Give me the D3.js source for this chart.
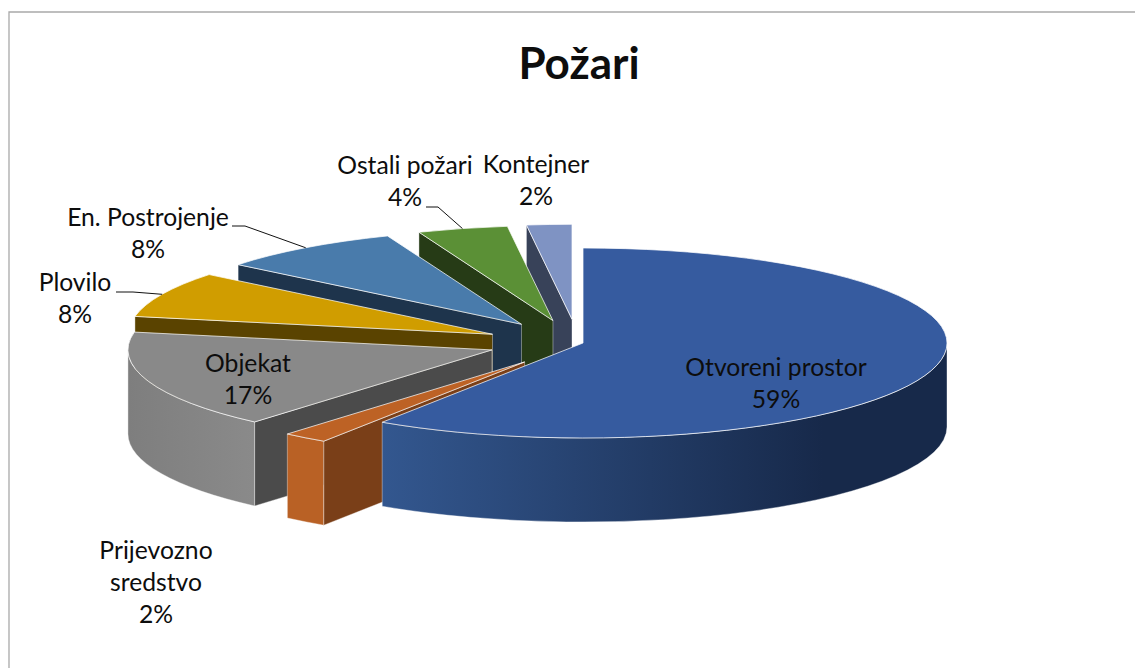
<!DOCTYPE html>
<html>
<head>
<meta charset="utf-8">
<script src="https://cdn.jsdelivr.net/npm/d3@7"></script>
<style>
  html, body { margin: 0; padding: 0; background: #ffffff; }
  text { font-family: Lato, "Open Sans", sans-serif; fill: #0d0d0d; }
</style>
</head>
<body>
<div id="graph"></div>
<script>
// Chart data, shares (labels show them rounded)
const categories = ["Otvoreni prostor", "Prijevozno sredstvo", "Objekat", "Plovilo", "En. Postrojenje", "Ostali požari", "Kontejner"];
const shares = [59.3, 2.0, 16.7, 7.8, 8.2, 4.0, 2.0];

// Colours per slice
const top_colors = ["#365b9f", "#bd6225", "#898989", "#d09d00", "#497bab", "#5b9036", "#7f93c3"];
const cut_colors = ["#1e3560", "#7a3f18", "#4b4b4b", "#5a4300", "#1e344c", "#263b16", "#384259"];
const wall_left = ["#33578f", "#b96125", "#8a8a8a", "#8a6800", "#2c5273", "#3c5f24", "#55628a"];
const wall_right = ["#17294a", "#b96125", "#7e7e7e", "#8a6800", "#2c5273", "#3c5f24", "#55628a"];

// How far each slice is pulled out, as a fraction of the radius (x and y)
const explode_x = [0, 0.266, 0.265, 0.274, 0.285, 0.332, 0.48];
const explode_y = [0, 0.25, 0.22, 0.22, 0.245, 0.244, 0.25];

// Label layout: how the category wraps, then [center x, first baseline]
const label_lines = [["Otvoreni prostor"], ["Prijevozno", "sredstvo"], ["Objekat"], ["Plovilo"], ["En. Postrojenje"], ["Ostali požari"], ["Kontejner"]];
const label_pos = [[776, 376], [156, 559], [248, 372], [75, 291], [148, 226], [405, 174], [536, 173]];
// Leader line start and length of its flat part, for labels that have one
const leader_start = [null, null, null, [116, 292], [232, 226], [426, 207], null];
const leader_flat = [0, 0, 0, 17, 13, 12, 0];

const width = 1135, height = 668;
const cx = 583, cy = 343, rx = 364, ry = 95, depth = 84;

const svg = d3.select("#graph").append("svg")
  .attr("width", width)
  .attr("height", height)
  .style("display", "block");

const defs = svg.append("defs");

// Angles run clockwise from twelve o'clock, same as d3.pie
const slices = d3.pie().sort(null).value(d => d)(shares).map(function(d, i) {
  let mid = (d.startAngle + d.endAngle) / 2;
  return {
    index: i,
    start: d.startAngle,
    end: d.endAngle,
    mid: mid,
    ax: cx + explode_x[i] * rx * Math.sin(mid),
    ay: cy - explode_y[i] * ry * Math.cos(mid)
  };
});

function rim(s, a, drop) {
  return [s.ax + rx * Math.sin(a), s.ay - ry * Math.cos(a) + (drop || 0)];
}

function top_path(s) {
  let p0 = rim(s, s.start), p1 = rim(s, s.end);
  let large = s.end - s.start > Math.PI ? 1 : 0;
  return `M${s.ax},${s.ay} L${p0} A${rx},${ry} 0 ${large} 1 ${p1} Z`;
}

// Vertical wall under the straight edge at the start angle
function cut_path(s) {
  let p = rim(s, s.start);
  return `M${s.ax},${s.ay} L${p} L${p[0]},${p[1] + depth} L${s.ax},${s.ay + depth} Z`;
}

// Curved outer wall, only the part turned towards the viewer
function wall_path(s) {
  let a0 = Math.max(s.start, Math.PI / 2), a1 = Math.min(s.end, 3 * Math.PI / 2);
  if (a0 >= a1) return null;
  let p0 = rim(s, a0), p1 = rim(s, a1);
  return `M${p0} A${rx},${ry} 0 0 1 ${p1} L${p1[0]},${p1[1] + depth} A${rx},${ry} 0 0 0 ${p0[0]},${p0[1] + depth} Z`;
}

// Back slices first, the big blue one goes last
const draw_order = [6, 5, 4, 3, 2, 1, 0];

draw_order.forEach(function(i) {
  let s = slices[i];
  let g = svg.append("g").attr("class", "slice");

  let wall = wall_path(s);
  if (wall) {
    let pts = [rim(s, Math.max(s.start, Math.PI / 2)), rim(s, Math.min(s.end, 3 * Math.PI / 2))];
    let grad = defs.append("linearGradient")
      .attr("id", "wall" + i)
      .attr("gradientUnits", "userSpaceOnUse")
      .attr("x1", d3.min(pts, d => d[0])).attr("x2", d3.max(pts, d => d[0]))
      .attr("y1", 0).attr("y2", 0);
    grad.append("stop").attr("offset", 0).attr("stop-color", i === 2 ? wall_right[i] : wall_left[i]);
    // The blue wall reaches its darkest tone before the right end
    grad.append("stop").attr("offset", i === 0 ? 0.78 : 1).attr("stop-color", i === 2 ? wall_left[i] : wall_right[i]);
    g.append("path").attr("d", wall).attr("fill", `url(#wall${i})`)
      .attr("stroke", "#ffffff").attr("stroke-opacity", 0.5).attr("stroke-width", 0.75);
  }
  if (i !== 0) {
    g.append("path").attr("d", cut_path(s)).attr("fill", cut_colors[i])
      .attr("stroke", "#ffffff").attr("stroke-opacity", 0.5).attr("stroke-width", 0.75);
  }
  g.append("path").attr("d", top_path(s)).attr("fill", top_colors[i])
    .attr("stroke", "#ffffff").attr("stroke-opacity", 0.8).attr("stroke-width", 0.9);
});

// Frame, only the top and left edges are in the picture
svg.append("path")
  .attr("d", `M9,${height} L9,12 L${width},12`)
  .attr("fill", "none")
  .attr("stroke", "#a9a9a9")
  .attr("stroke-width", 1.3);

// Title
svg.append("text")
  .attr("x", 579)
  .attr("y", 79)
  .attr("text-anchor", "middle")
  .attr("font-size", 44)
  .attr("font-weight", 700)
  .text("Požari");

// Leader lines end on the rim at the middle of the slice
slices.forEach(function(s, i) {
  if (!leader_start[i]) return;
  let end = rim(s, s.mid);
  let st = leader_start[i];
  svg.append("path")
    .attr("d", `M${st} h${leader_flat[i]} L${end}`)
    .attr("fill", "none")
    .attr("stroke", "#111111")
    .attr("stroke-width", 1);
});

// Labels
categories.forEach(function(c, i) {
  let t = svg.append("text")
    .attr("text-anchor", "middle")
    .attr("font-size", 24.7);
  label_lines[i].concat(Math.round(shares[i]) + "%").forEach(function(line, k) {
    t.append("tspan")
      .attr("x", label_pos[i][0])
      .attr("y", label_pos[i][1] + k * 32)
      .text(line);
  });
});
</script>
</body>
</html>
